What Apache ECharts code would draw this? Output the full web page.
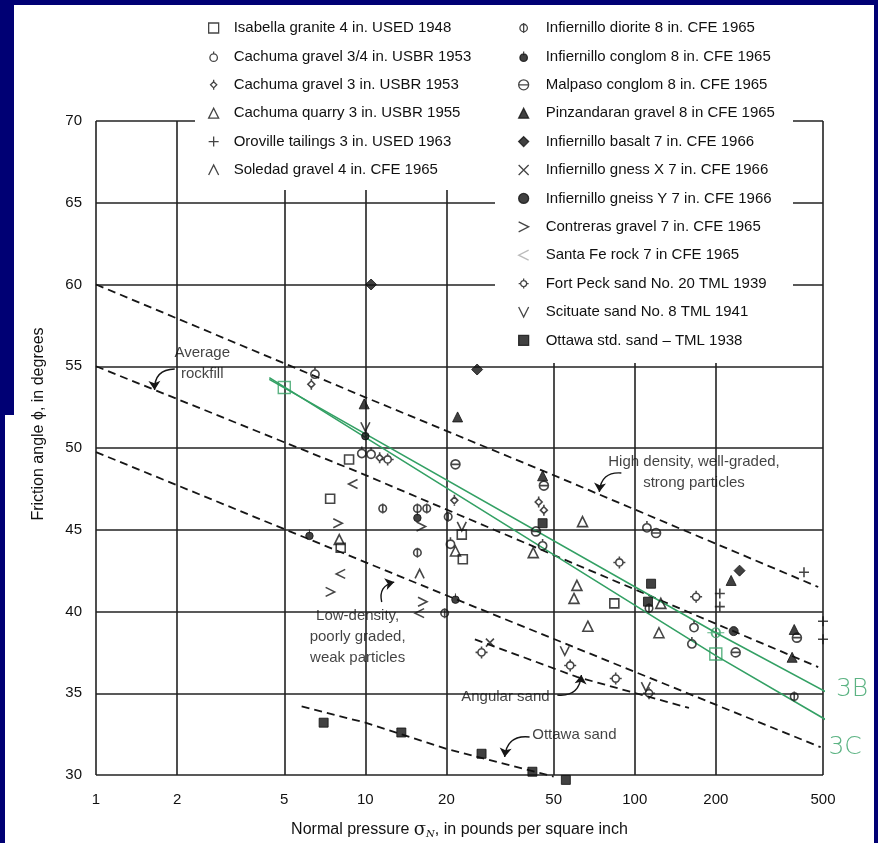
<!DOCTYPE html>
<html><head><meta charset="utf-8">
<script src="https://cdn.jsdelivr.net/npm/echarts@6/dist/echarts.min.js"></script>
<style>
html,body{margin:0;padding:0;background:#000074;width:878px;height:843px;overflow:hidden;}
#p1{position:absolute;left:14px;top:5px;width:860px;height:838px;background:#fff;}
#p2{position:absolute;left:5px;top:415px;width:869px;height:428px;background:#fff;}
#chart{position:absolute;left:0;top:0;width:878px;height:843px;}
</style></head><body>
<div id="p1"></div><div id="p2"></div><div id="chart"></div>
<script>
// ---------- tick labels ----------
const xTicks = [1, 2, 5, 10, 20, 50, 100, 200, 500];
// ---------- series names ----------
const leftNames = [
  'Isabella granite 4 in. USED 1948',
  'Cachuma gravel 3/4 in. USBR 1953',
  'Cachuma gravel 3 in. USBR 1953',
  'Cachuma quarry 3 in. USBR 1955',
  'Oroville tailings 3 in. USED 1963',
  'Soledad gravel 4 in. CFE 1965'
];
const rightNames = [
  'Infiernillo diorite 8 in. CFE 1965',
  'Infiernillo conglom 8 in. CFE 1965',
  'Malpaso conglom 8 in. CFE 1965',
  'Pinzandaran gravel 8 in CFE 1965',
  'Infiernillo basalt 7 in. CFE 1966',
  'Infiernillo gness X 7 in. CFE 1966',
  'Infiernillo gneiss Y 7 in. CFE 1966',
  'Contreras gravel 7 in. CFE 1965',
  'Santa Fe rock 7 in CFE 1965',
  'Fort Peck sand No. 20 TML 1939',
  'Scituate sand No. 8 TML 1941',
  'Ottawa std. sand \u2013 TML 1938'
];
// ---------- data points [pressure psi, friction angle deg] ----------
const isabella = [[8.7,49.3],[7.4,46.9],[8.1,43.9],[22.8,44.7],[23,43.2],[84,40.5]];
const cachuma34 = [[6.5,54.6],[9.7,49.75],[10.5,49.7],[20.7,44.2],[45.5,44.1],[111,45.2],[166,39.1],[163,38.1]];
const cachuma3 = [[6.3,53.9],[11.3,49.4],[21.4,46.8],[44,46.7],[46,46.2]];
const quarry = [[8.0,44.4],[21.6,43.7],[42,43.6],[64,45.5],[61,41.6],[59.5,40.8],[67,39.1],[123,38.7],[125,40.5]];
const oroville = [[207,41.1],[207,40.3],[425,42.4],[500,39.4],[500,38.3]];
const soledad = [[15.9,42.3]];
const diorite = [[11.6,46.3],[15.6,46.3],[16.9,46.3],[20.3,45.8],[15.6,43.6],[19.7,39.9],[113,40.2],[391,34.8]];
const conglom = [[10,50.8],[15.6,45.8],[6.2,44.7],[21.6,40.8]];
const malpaso = [[21.6,49.0],[46,47.7],[43,44.9],[120,44.8],[400,38.4],[237,37.5]];
const pinzandaran = [[9.9,52.7],[22,51.9],[45.5,48.3],[228,41.9],[391,38.9],[384,37.2]];
const basalt = [[10.5,60],[26,54.8],[245,42.5]];
const gneissX = [[29,38.1]];
const gneissY = [[233,38.8]];
const contreras = [[7.9,45.4],[7.4,41.2],[16.1,45.2],[16.3,40.6]];
const santaFe = [[9.0,47.8],[8.1,42.3],[15.9,39.9]];
const fortPeck = [[12.1,49.3],[87.7,43.0],[169,40.9],[27,37.5],[57.6,36.7],[85,35.9],[113,35.0]];
const scituate = [[10,51.3],[22.8,45.2],[55,37.6],[110,35.4]];
const ottawa = [[7.0,33.2],[13.6,32.6],[27,31.3],[41.7,30.2],[55.5,29.7],[45.5,45.4],[115,41.7],[112,40.6]];
// ---------- envelope (dashed) curves ----------
const highEnv = [[1,60],[10,53.1],[50.6,48.3],[480,41.5]];
const avgEnv = [[1,55],[9.5,48.5],[52.6,43.3],[480,36.6]];
const lowEnv = [[1,49.75],[20.6,40.9],[200,34.3],[490,31.7]];
const angularSand = [[25.5,38.3],[61,36.0],[159,34.1]];
const ottawaSand = [[5.8,34.2],[10,33.2],[20,31.6],[50,29.9]];
// ---------- green hand-drawn lines ----------
const line3B = [[4.4,54.2],[200,38.7],[662,34.1]];
const line3C = [[4.4,54.3],[200,37.3],[775,31.65]];
const green3BPts = [[200,38.7]];
const green3CPts = [[5,53.7],[200,37.4]];
// ---------- annotations ----------
const notes = [
  {name:'Average\nrockfill', value:[2.48,55.2]},
  {name:'High density, well-graded,\nstrong particles', value:[166,48.5]},
  {name:'Low-density,\npoorly graded,\nweak particles', value:[9.36,38.45]},
  {name:'Angular sand', value:[33.1,34.8]},
  {name:'Ottawa sand', value:[59.7,32.45]}
];
const greenNotes = [
  {name:'3B', value:[641,35.2]},
  {name:'3C', value:[604,31.7]}
];
const arrows = [
  {coords:[[1.96,54.83],[1.65,53.55]], c:-0.5},
  {coords:[[89.2,48.47],[73.9,47.31]], c:-0.5},
  {coords:[[11.5,40.58],[12.8,41.8]], c:0.5},
  {coords:[[51.6,34.89],[63.4,36.12]], c:-0.5},
  {coords:[[40.7,32.32],[32.9,31.1]], c:-0.5}
];

const INK = '#161616';
const GREEN = '#33a064';
const SANS = "'Liberation Sans',Arial,sans-serif";

const S = {
  sq: 'rect',
  circTick: 'path://M1,5 A3,3 0 1,1 7,5 A3,3 0 1,1 1,5 Z M4,0 L4,2',
  diaTick: 'path://M4,1.5 L6.5,4 L4,6.5 L1.5,4 Z M4,0 L4,1.5 M4,6.5 L4,8',
  tri: 'triangle',
  plus: 'path://M0,4 L8,4 M4,0 L4,8',
  caret: 'path://M0,8 L4,0 L8,8',
  phi: 'path://M1,4 A3,3 0 1,1 7,4 A3,3 0 1,1 1,4 Z M4,0 L4,8',
  blob: 'path://M1,5 A3,3 0 1,1 7,5 A3,3 0 1,1 1,5 Z M4,0 L4,3',
  theta: 'path://M0.5,4 A3.5,3.5 0 1,1 7.5,4 A3.5,3.5 0 1,1 0.5,4 Z M0.5,4 L7.5,4',
  diamond: 'diamond',
  cross: 'path://M0,0 L8,8 M8,0 L0,8',
  circle: 'circle',
  gt: 'path://M0,0 L8,4 L0,8',
  lt: 'path://M8,0 L0,4 L8,8',
  gear: 'path://M2,5 A3,3 0 1,1 8,5 A3,3 0 1,1 2,5 Z M5,0 L5,2 M5,8 L5,10 M0,5 L2,5 M8,5 L10,5',
  vee: 'path://M0,0 L4,8 L8,0'
};
const openStyle = {color:'rgba(0,0,0,0)', borderColor:INK, borderWidth:1.6};
const fillStyle = {color:'#111', borderColor:'#111', borderWidth:1};

function sc(name, data, symbol, filled, size) {
  return {
    type:'scatter', name, data, symbol, symbolSize: size || 9, symbolKeepAspect:true,
    itemStyle: filled ? fillStyle : openStyle, clip:false, silent:true, z:4
  };
}
function dashed(data) {
  return {type:'line', data, symbol:'none', clip:false, silent:true, z:3,
    lineStyle:{color:INK, width:1.8, type:[8,5]}};
}
function green(data) {
  return {type:'line', data, symbol:'none', clip:false, silent:true, z:3,
    lineStyle:{color:GREEN, width:1.6}};
}

const series = [
  sc(leftNames[0], isabella, S.sq, false, 9),
  sc(leftNames[1], cachuma34, S.circTick, false, 11),
  sc(leftNames[2], cachuma3, S.diaTick, false, 11),
  sc(leftNames[3], quarry, S.tri, false, 10),
  sc(leftNames[4], oroville, S.plus, false, 10),
  sc(leftNames[5], soledad, S.caret, false, 9),
  sc(rightNames[0], diorite, S.phi, false, 10),
  sc(rightNames[1], conglom, S.blob, true, 10),
  sc(rightNames[2], malpaso, S.theta, false, 9),
  sc(rightNames[3], pinzandaran, S.tri, true, 10),
  sc(rightNames[4], basalt, S.diamond, true, 11),
  sc(rightNames[5], gneissX, S.cross, false, 8),
  sc(rightNames[6], gneissY, S.circle, true, 9),
  sc(rightNames[7], contreras, S.gt, false, 9),
  sc(rightNames[8], santaFe, S.lt, false, 9),
  sc(rightNames[9], fortPeck, S.gear, false, 12),
  sc(rightNames[10], scituate, S.vee, false, 9),
  sc(rightNames[11], ottawa, S.sq, true, 9),
  dashed(highEnv), dashed(avgEnv), dashed(lowEnv), dashed(angularSand), dashed(ottawaSand),
  green(line3B), green(line3C),
  {type:'scatter', data:green3BPts, symbol:'path://M4,5 A4,4 0 1,1 12,5 A4,4 0 1,1 4,5 Z M0,5 L16,5',
   symbolSize:[17,10], itemStyle:{color:'rgba(0,0,0,0)', borderColor:GREEN, borderWidth:1.4}, clip:false, silent:true, z:5},
  {type:'scatter', data:green3CPts, symbol:'rect', symbolSize:12,
   itemStyle:{color:'rgba(0,0,0,0)', borderColor:GREEN, borderWidth:1.4}, clip:false, silent:true, z:5},
  {type:'scatter', data:notes, symbolSize:0, clip:false, silent:true, z:6,
   label:{show:true, position:'inside', formatter:p=>p.name, color:'#111', fontSize:15,
     fontFamily:SANS, lineHeight:21, align:'center', verticalAlign:'middle'}},
  {type:'scatter', data:greenNotes, symbolSize:0, clip:false, silent:true, z:6,
   label:{show:true, position:'inside', formatter:p=>p.name, color:GREEN, fontSize:25,
     fontFamily:"'DejaVu Sans',sans-serif", fontWeight:'lighter'}},
  {type:'lines', coordinateSystem:'cartesian2d', polyline:false, silent:true, z:5,
   symbol:['none','arrow'], symbolSize:[0,9],
   lineStyle:{color:INK, width:1.4, opacity:1},
   data: arrows.map(a => ({coords:a.coords, lineStyle:{curveness:a.c}}))}
];

const legendBase = {
  orient:'vertical', padding:0, itemWidth:10, itemHeight:10, itemGap:10.4, selectedMode:false, z:10,
  itemStyle:{borderWidth:1.3},
  textStyle:{fontFamily:SANS, fontSize:15, color:'#111', lineHeight:18}
};

const chart = echarts.init(document.getElementById('chart'), null, {renderer:'canvas'});
chart.setOption({
  animation:false,
  backgroundColor:'transparent',
  grid:{left:96, right:55, top:121, bottom:68, containLabel:false, outerBoundsMode:'none'},
  graphic:[
    {type:'rect', z:5, shape:{x:195, y:5, width:300, height:185}, style:{fill:'#fff'}},
    {type:'rect', z:5, shape:{x:495, y:5, width:298, height:358}, style:{fill:'#fff'}}
  ],
  legend:[
    Object.assign({}, legendBase, {data:leftNames, left:208, top:19,
      textStyle:Object.assign({}, legendBase.textStyle, {padding:[0,0,0,10]})}),
    Object.assign({}, legendBase, {data:rightNames.map((n,i)=> i===8 ? {name:n, itemStyle:{borderColor:'#aaa'}} : n), left:518, top:19,
      textStyle:Object.assign({}, legendBase.textStyle, {padding:[0,0,0,12]})})
  ],
  xAxis:{
    type:'log', logBase:10, min:1, max:500,
    axisLine:{show:false}, axisTick:{show:false, customValues:xTicks},
    axisLabel:{customValues:xTicks, formatter:v=>String(v), margin:17, fontSize:15, color:'#111', fontFamily:SANS},
    splitLine:{show:true, lineStyle:{color:'#222', width:1.6}},
    minorTick:{show:false}, minorSplitLine:{show:false},
    name:'Normal pressure {s|\u03c3}{n|N}, in pounds per square inch',
    nameLocation:'middle', nameGap:46,
    nameTextStyle:{fontFamily:SANS, fontSize:16, color:'#111',
      rich:{s:{fontFamily:"'DejaVu Serif',serif", fontSize:18, color:'#111'},
            n:{fontFamily:"'DejaVu Serif',serif", fontStyle:'italic', fontSize:10, color:'#111', padding:[8,0,0,0]}}}
  },
  yAxis:{
    type:'value', min:30, max:70, interval:5,
    axisLine:{show:false}, axisTick:{show:false},
    axisLabel:{margin:14, fontSize:15, color:'#111', fontFamily:SANS},
    splitLine:{show:true, lineStyle:{color:'#222', width:1.6}},
    name:'Friction angle \u03d5, in degrees', nameLocation:'middle', nameGap:49, nameRotate:90,
    nameTextStyle:{fontFamily:SANS, fontSize:16, color:'#111', padding:[0,0,0,48]}
  },
  series
});
</script></body></html>
